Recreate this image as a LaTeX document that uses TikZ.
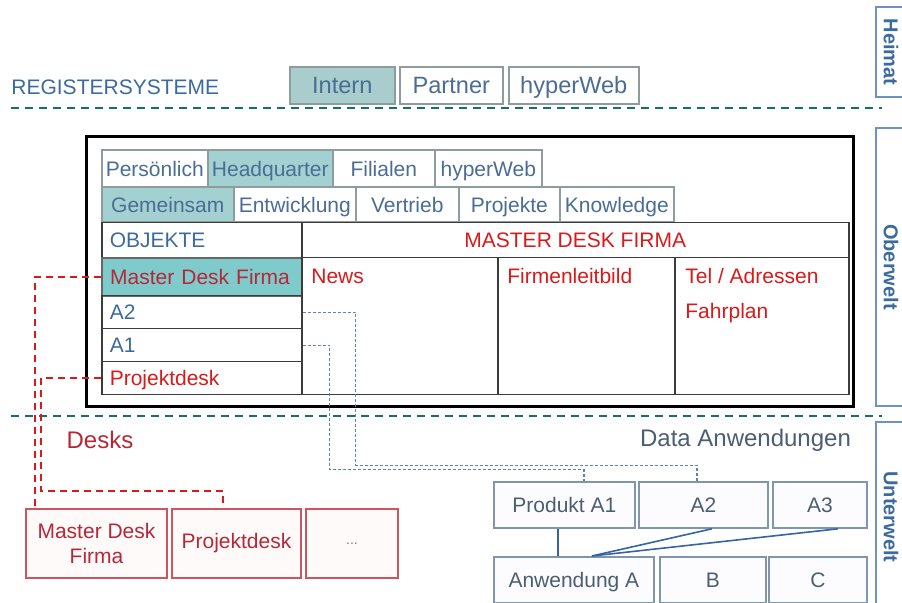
\documentclass[tikz,border=0pt]{standalone}
\usepackage{fontspec}
\setmainfont{Liberation Sans}
\usetikzlibrary{positioning}

\definecolor{regblue}{HTML}{3B6A9E}
\definecolor{tabblue}{HTML}{4A6D94}
\definecolor{tabgray}{HTML}{8E9C9C}
\definecolor{tealfill}{HTML}{A3D1D1}
\definecolor{teallight}{HTML}{A9CCCC}
\definecolor{tealdark}{HTML}{7FCBCB}
\definecolor{sepgreen}{HTML}{13706A}
\definecolor{cellgray}{HTML}{3C3C3C}
\definecolor{deskred}{HTML}{D81A1A}
\definecolor{darkred}{HTML}{B52838}
\definecolor{deskline}{HTML}{CC5560}
\definecolor{sideblue}{HTML}{6F92C2}
\definecolor{appline}{HTML}{8096AA}
\definecolor{apptext}{HTML}{4C5E72}
\definecolor{conblue}{HTML}{3564A0}

\tikzset{
  every node/.style={font=\fontsize{10.5}{12.5}\selectfont},
  tab/.style={draw=tabgray, line width=0.8pt, fill=white, text=tabblue,
    inner sep=0pt, anchor=north west, text height=8.4pt, text depth=0.4pt},
  cell/.style={draw=cellgray, line width=0.75pt, anchor=north west, inner sep=0pt},
  lcell/.style={cell, text width=92pt, inner xsep=4pt, align=left,
    text height=8.2pt, text depth=0.6pt},
  intxt/.style={anchor=west, inner sep=0pt, xshift=5pt, text=deskred},
  side/.style={draw=sideblue, line width=0.7pt, rotate=-90, text=regblue,
    font=\fontsize{10}{12}\selectfont\bfseries, inner sep=0pt},
  sepline/.style={sepgreen, line width=1pt, dash pattern=on 4pt off 3pt},
  deskbox/.style={draw=deskline, line width=1pt, fill=red!2, text=darkred,
    anchor=north west, inner sep=0pt, align=center, minimum height=34.5pt},
  appbox/.style={draw=appline, line width=0.9pt, fill=blue!1, text=apptext,
    anchor=north west, inner sep=0pt, minimum height=23pt,
    text height=7.9pt, text depth=0.5pt},
  redlink/.style={deskred, line width=0.8pt, dash pattern=on 3.5pt off 2.5pt},
  bluelink/.style={conblue!80, line width=0.6pt, dash pattern=on 1.5pt off 1pt},
  applink/.style={conblue, line width=0.8pt}
}

\begin{document}
\begin{tikzpicture}[x=0.5pt, y=-0.5pt]
  \clip (0,0) rectangle (902,603);

  \node[anchor=west, inner sep=0pt, text=regblue] (register) at (11,87) {REGISTERSYSTEME};
  \foreach \nm/\txt/\xa/\xb/\fl in {intern/Intern/289/394/teallight, partner/Partner/399/502/white, hyperweb/hyperWeb/508/638/white}
    \node[tab, fill=\fl, font=\fontsize{11.8}{14}\selectfont, text height=9pt, text depth=0.5pt,
      minimum width={(\xb-\xa)*0.5pt}, minimum height=18.5pt] (\nm) at (\xa,66) {\txt};
  \draw[sepline] (11,108) -- (882,108);

  \node[side, minimum width=45pt, minimum height=15pt] (heimat) at (891,52) {Heimat};
  \node[side, minimum width=139pt, minimum height=15pt] (oberwelt) at (891,267) {Oberwelt};
  \node[side, minimum width=95pt, minimum height=15pt] (unterwelt) at (891,517) {Unterwelt};

  \draw[line width=1.5pt] (86,137) rectangle (853,407);

  \foreach \nm/\txt/\xa/\xb/\fl in {persoenlich/Persönlich/101/207/white, headquarter/Headquarter/207/332/tealfill, filialen/Filialen/332/434/white, hyperwebtab/hyperWeb/434/541/white}
    \node[tab, fill=\fl, minimum width={(\xb-\xa)*0.5pt}, minimum height=18.5pt] (\nm) at (\xa,149) {\txt};
  \foreach \nm/\txt/\xa/\xb/\fl in {gemeinsam/Gemeinsam/101/233/tealfill, entwicklung/Entwicklung/233/355/white, vertrieb/Vertrieb/355/458/white, projekte/Projekte/458/559/white, knowledge/Knowledge/559/673/white}
    \node[tab, fill=\fl, minimum width={(\xb-\xa)*0.5pt}, minimum height=17.5pt] (\nm) at (\xa,186) {\txt};

  \node[lcell, minimum height=17.5pt, text=regblue] (objekte) at (101,222) {OBJEKTE};
  \node[lcell, minimum height=19pt, fill=tealdark, draw=gray!80!black, line width=1.2pt, text=darkred] (mdf) at (101,257) {Master Desk Firma};
  \node[lcell, minimum height=16.5pt, text=regblue] (a2row) at (101,295) {A2};
  \node[lcell, minimum height=16.5pt, text=regblue] (a1row) at (101,328) {A1};
  \node[lcell, minimum height=16.5pt, text=deskred] (pdrow) at (101,361) {Projektdesk};

  \node[cell, minimum width=273.5pt, minimum height=17.5pt, text=deskred,
    text height=8.2pt, text depth=0.6pt] (header) at (301,222) {MASTER DESK FIRMA};
  \node[cell, minimum width=98pt, minimum height=68.5pt,
    label={[intxt, yshift=-9.5pt]north west:News}] (news) at (301,257) {};
  \node[cell, minimum width=88.5pt, minimum height=68.5pt,
    label={[intxt, yshift=-9.5pt]north west:Firmenleitbild}] (firmen) at (497,257) {};
  \node[cell, minimum width=87pt, minimum height=68.5pt,
    label={[intxt, xshift=0.5pt, yshift=-9.5pt]north west:Tel / Adressen},
    label={[intxt, xshift=0.5pt, yshift=-28pt]north west:Fahrplan}] (tel) at (674,257) {};

  \draw[sepline] (11,416) -- (882,416);

  \node[text=darkred, font=\fontsize{12}{14}\selectfont] (desks) at (100,440) {Desks};
  \node[anchor=east, text=apptext, font=\fontsize{12}{14}\selectfont] (dataanw) at (858,440) {Data Anwendungen};

  \node[deskbox, minimum width=70.5pt] (mdbox) at (25,508) {Master Desk\\Firma};
  \node[deskbox, minimum width=64.5pt] (pdbox) at (171,508) {Projektdesk};
  \node[deskbox, minimum width=46pt, text=gray, font=\fontsize{7}{8}\selectfont] (morebox) at (305,508) {...};

  \node[appbox, minimum width=70.5pt] (produkt) at (493,481) {Produkt A1};
  \node[appbox, minimum width=64.5pt] (a2box) at (638,481) {A2};
  \node[appbox, minimum width=47pt] (a3box) at (772,481) {A3};
  \node[appbox, minimum width=80pt] (anwa) at (493,556) {Anwendung A};
  \node[appbox, minimum width=53pt] (bbox) at (659,556) {B};
  \node[appbox, minimum width=49pt] (cbox) at (768,556) {C};

  \draw[redlink] (mdf.west) -| ([xshift=5pt]mdbox.north west);
  \draw[redlink] (pdrow.west) -| ++(-60,113) -| ([xshift=26pt]pdbox.north west);
  \draw[bluelink] (a2row.east) -| ++(53,153) -| ([xshift=29.5pt]a2box.north west);
  \draw[bluelink] (a1row.east) -| ++(27,124.5) -| ([xshift=45.5pt]produkt.north west);

  \draw[applink] ([xshift=32.5pt]produkt.south west) -- ([xshift=32.5pt]anwa.north west);
  \draw[applink] ([xshift=37pt]a2box.south west) -- ([xshift=49.5pt]anwa.north west);
  \draw[applink] ([xshift=33pt]a3box.south west) -- ([xshift=49.5pt]anwa.north west);
\end{tikzpicture}
\end{document}
